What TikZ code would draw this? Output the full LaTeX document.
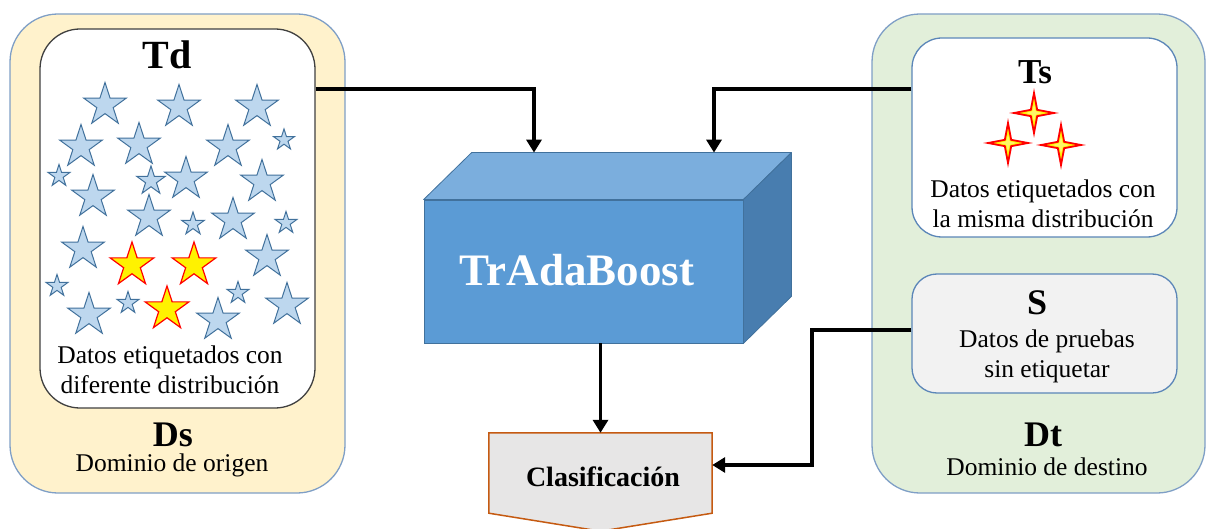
\documentclass[tikz,border=0pt]{standalone}
\usepackage{fontspec}
\setmainfont{Liberation Serif}
\usetikzlibrary{shapes.geometric,arrows.meta,calc}
\definecolor{beige}{HTML}{FFF2CC}
\definecolor{lgreen}{HTML}{E2EFDA}
\definecolor{frameblue}{HTML}{7F9FC6}
\definecolor{boxblue}{HTML}{5B86B8}
\definecolor{starblue}{HTML}{BDD7EE}
\definecolor{stardark}{HTML}{41719C}
\definecolor{cubefront}{HTML}{5B9BD5}
\definecolor{cubetop}{HTML}{7BAEDD}
\definecolor{cubeside}{HTML}{487DAF}
\definecolor{clasfill}{HTML}{E7E6E6}
\definecolor{clasdraw}{HTML}{C55A11}
\definecolor{sfill}{HTML}{F2F2F2}
\begin{document}
\begin{tikzpicture}[x=1pt,y=-1pt,
  domainbox/.style={draw=frameblue, line width=1.3pt, rounded corners=48pt, inner sep=0pt},
  databox/.style={line width=1.3pt, inner sep=0pt},
  bstar/.style={star, star points=5, star point ratio=2.618, inner sep=0pt, fill=starblue, draw=stardark, line width=1pt},
  ystar/.style={star, star points=5, star point ratio=2.618, inner sep=0pt, fill=yellow, draw=red, line width=1.2pt},
  title/.style={font=\rmfamily\fontsize{36}{40}\selectfont\bfseries, inner sep=0pt},
  body/.style={font=\rmfamily\fontsize{25.5}{30}\selectfont, align=center, inner sep=0pt},
  arr/.style={line width=3.6pt, -{Triangle[length=13pt,width=15pt]}},
  sparkle/.pic={\filldraw[fill=yellow, draw=red, line width=1.8pt, line join=miter]
     (0:20) -- (45:4.5) -- (90:20) -- (135:4.5) -- (180:20) -- (225:4.5) -- (270:20) -- (315:4.5) -- cycle;
     \fill[yellow!60!white] (0:9) -- (45:2.5) -- (90:9) -- (135:2.5) -- (180:9) -- (225:2.5) -- (270:9) -- (315:2.5) -- cycle;}
]
\useasboundingbox (0,0) rectangle (1206,529);

% Left domain
\node[domainbox, fill=beige, minimum width=335pt, minimum height=479pt] (ds) at (177.5,253.5) {};
\node[databox, draw=black!75, fill=white, rounded corners=40pt, minimum width=275pt, minimum height=379pt] (tdbox) at (177.5,218.5) {};
\node[title, font=\rmfamily\fontsize{40}{44}\selectfont\bfseries] (tdlabel) at (167,55) {Td};
\foreach \x/\y/\r in {105/105/22.5,179/107/22.5,257/107/22.5,81/147/22.5,139/145/22.5,228/147/22.5,
  284/140/11,59/176/11.5,151/181/15,186/179/22.5,262/182/22.5,93/197/22.5,149/217/22.5,193/224/12,
  233/220/22.5,286/223/11.5,83/249/22.5,267/257/22.5,57/286/11.5,89/315/22.5,128/303/11.5,
  238/293/11.5,218/320/22.5,287/305/22.5}
  \node[bstar, minimum size=2*\r] at (\x,\y) {};
\foreach \x/\y in {132/265,194/265,167/309}
  \node[ystar, minimum size=46] at (\x,\y) {};
\node[body] (tdtext) at (170,370) {Datos etiquetados con\\diferente distribución};
\node[title] (dslabel) at (173,435) {Ds};
\node[body] (dstext) at (172,465) {Dominio de origen};

% Right domain
\node[domainbox, fill=lgreen, minimum width=333pt, minimum height=479pt] (dt) at (1038.5,253.5) {};
\node[databox, draw=boxblue, fill=white, rounded corners=30pt, minimum width=265pt, minimum height=199pt] (tsbox) at (1044.5,137.5) {};
\node[title, font=\rmfamily\fontsize{35}{40}\selectfont\bfseries] (tslabel) at (1035,72) {Ts};
\pic at (1034,113) {sparkle};
\pic at (1008,143) {sparkle};
\pic at (1061,145) {sparkle};
\node[body] (tstext) at (1043,204) {Datos etiquetados con\\la misma distribución};
\node[databox, draw=boxblue, fill=sfill, rounded corners=25pt, minimum width=265pt, minimum height=119pt] (sbox) at (1044.5,333.5) {};
\node[title] (slabel) at (1037,303) {S};
\node[body] (stext) at (1047,356) {Datos de pruebas\\sin etiquetar};
\node[title] (dtlabel) at (1043,435) {Dt};
\node[body] (dttext) at (1047,467) {Dominio de destino};

% Cube
\node[inner sep=0pt, minimum width=319pt, minimum height=143pt, fill=cubefront, draw=stardark, line width=0.8pt] (cube) at (583.5,271.5) {};
\coordinate (bt1) at ($(cube.north west)+(48,-47)$);
\coordinate (bt2) at ($(cube.north east)+(48,-47)$);
\coordinate (bb2) at ($(cube.south east)+(48,-47)$);
\filldraw[fill=cubetop, draw=stardark, line width=0.8pt, line join=round] (cube.north west) -- (bt1) -- (bt2) -- (cube.north east) -- cycle;
\filldraw[fill=cubeside, draw=stardark, line width=0.8pt, line join=round] (cube.north east) -- (bt2) -- (bb2) -- (cube.south east) -- cycle;
\node[font=\rmfamily\fontsize{45}{50}\selectfont\bfseries, text=white, inner sep=0pt] (tralabel) at (577,270) {TrAdaBoost};

% Clasificacion
\node[inner sep=0pt, minimum width=223pt, minimum height=80pt] (clas) at (600.5,473) {};
\filldraw[fill=clasfill, draw=clasdraw, line width=1.5pt] (clas.north west) -- (clas.north east) -- (clas.south east) -- ($(clas.south)+(0,18)$) -- (clas.south west) -- cycle;
\node[font=\rmfamily\fontsize{28}{32}\selectfont\bfseries, inner sep=0pt] (clastext) at (603,477) {Clasificación};

% Connectors
\coordinate (k1) at (534,89);
\coordinate (k2) at (714,89);
\coordinate (k3) at (812,330);
\draw[arr] (tdbox.east |- k1) -- (k1) -- (k1 |- bt1);
\draw[arr] (tsbox.west |- k2) -- (k2) -- (k2 |- bt1);
\draw[arr] (cube.south -| clas.north) -- (clas.north);
\draw[arr] (sbox.west |- k3) -- (k3) |- ([yshift=8pt]clas.east);
\end{tikzpicture}
\end{document}
